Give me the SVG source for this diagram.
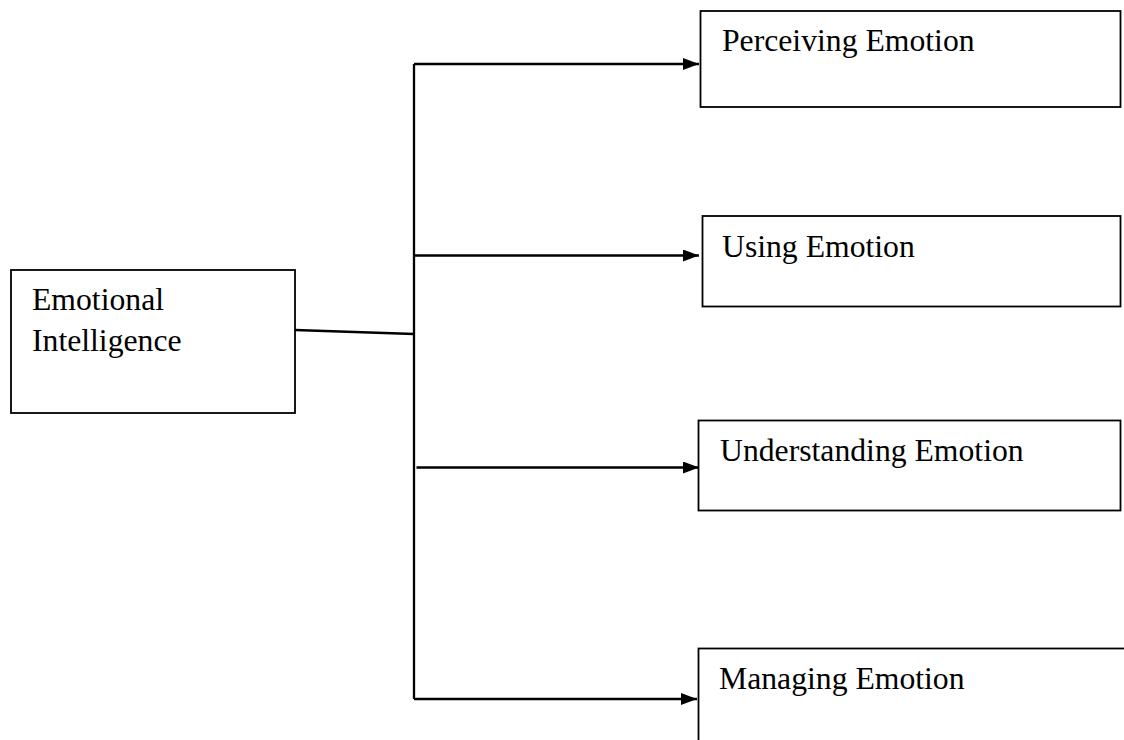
<svg xmlns="http://www.w3.org/2000/svg" width="1124" height="740" viewBox="0 0 1124 740">
  <style>
    .box { fill: #ffffff; stroke: #000000; stroke-width: 1.8; }
    .label { font-family: "Liberation Serif", "Times New Roman", serif; font-size: 31.7px; fill: #000000; }
    .wire { fill: none; stroke: #000000; stroke-width: 2.3; }
  </style>
  <defs>
    <marker id="arrow" markerUnits="userSpaceOnUse" markerWidth="16" markerHeight="12" refX="16" refY="6" orient="auto">
      <path d="M0,0 L16,6 L0,12 Z" fill="#000000"/>
    </marker>
  </defs>
  <rect width="1124" height="740" fill="#ffffff"/>

  <g id="connectors">
    <line class="wire" x1="295" y1="330" x2="414" y2="334"/>
    <line class="wire" x1="414" y1="64" x2="414" y2="699"/>
    <line class="wire" x1="414" y1="64" x2="699" y2="64" marker-end="url(#arrow)"/>
    <line class="wire" x1="414" y1="255.5" x2="699" y2="255.5" marker-end="url(#arrow)"/>
    <line class="wire" x1="416.5" y1="467.5" x2="699" y2="467.5" marker-end="url(#arrow)"/>
    <line class="wire" x1="414" y1="699" x2="697" y2="699" marker-end="url(#arrow)"/>
  </g>

  <g id="emotional-intelligence">
    <rect class="box" x="11" y="270" width="284" height="143"/>
    <text class="label" x="32" y="310">Emotional</text>
    <text class="label" x="32" y="351">Intelligence</text>
  </g>

  <g id="perceiving-emotion">
    <rect class="box" x="700.5" y="11" width="420" height="96"/>
    <text class="label" x="722" y="51">Perceiving Emotion</text>
  </g>

  <g id="using-emotion">
    <rect class="box" x="702.5" y="216" width="418" height="90.5"/>
    <text class="label" x="722" y="257">Using Emotion</text>
  </g>

  <g id="understanding-emotion">
    <rect class="box" x="698.5" y="420.5" width="422" height="90"/>
    <text class="label" x="720" y="461">Understanding Emotion</text>
  </g>

  <g id="managing-emotion">
    <rect class="box" x="698.5" y="648.5" width="440" height="110"/>
    <text class="label" x="719" y="689">Managing Emotion</text>
  </g>
</svg>
